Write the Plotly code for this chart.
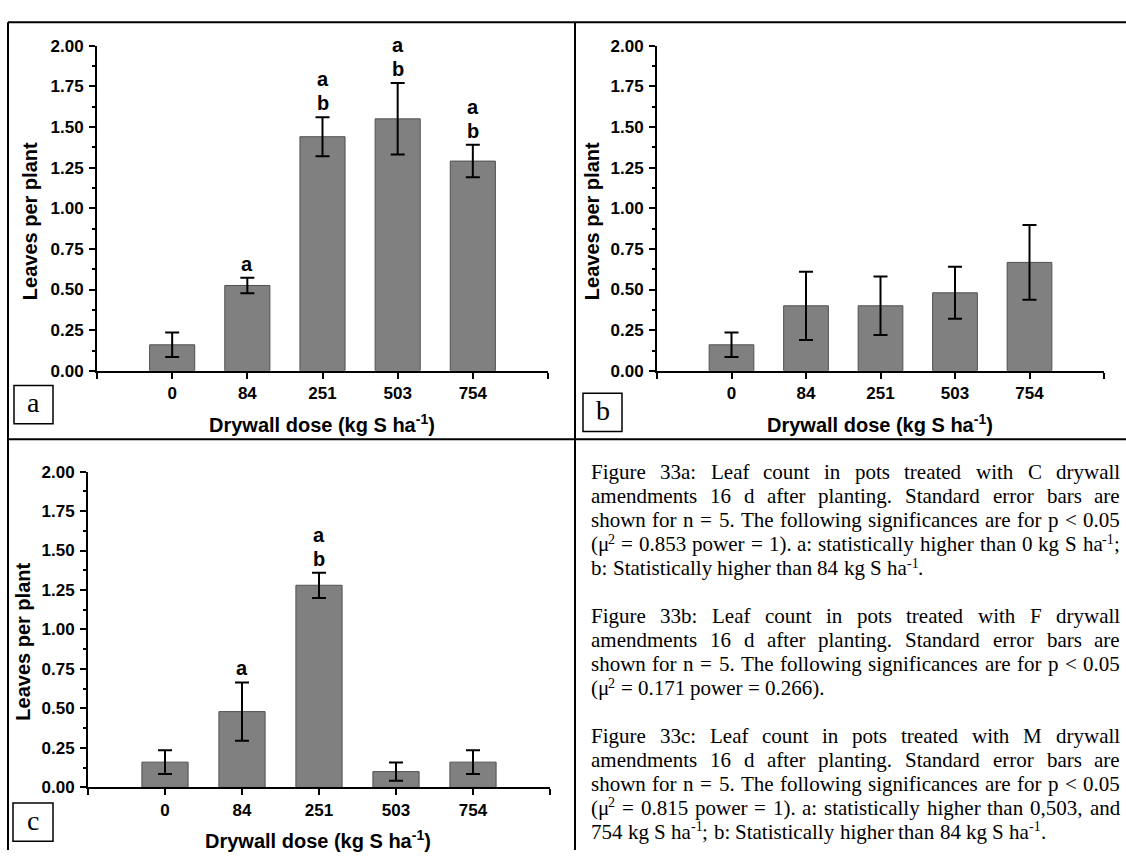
import re
import plotly.graph_objects as go

W, H = 1126, 860

# ---------------- data ----------------
categories = ["0", "84", "251", "503", "754"]

a_mean = [0.16, 0.525, 1.44, 1.55, 1.29]
a_err = [0.075, 0.048, 0.12, 0.22, 0.10]
a_letters = ["", "a", "ab", "ab", "ab"]

b_mean = [0.16, 0.40, 0.40, 0.48, 0.667]
b_err = [0.075, 0.21, 0.18, 0.16, 0.23]
b_letters = ["", "", "", "", ""]

c_mean = [0.16, 0.48, 1.28, 0.10, 0.16]
c_err = [0.075, 0.185, 0.08, 0.058, 0.075]
c_letters = ["", "a", "ab", "", ""]

y_ticks = [0.0, 0.25, 0.5, 0.75, 1.0, 1.25, 1.5, 1.75, 2.0]

# caption lines; ^{...} marks superscript; True = justified line
caption_paragraphs = [
    [
        ("Figure 33a: Leaf count in pots treated with C drywall", True),
        ("amendments 16 d after planting. Standard error bars are", True),
        ("shown for n = 5. The following significances are for p < 0.05", True),
        ("(μ^{2} = 0.853 power = 1). a: statistically higher than 0 kg S ha^{-1};", True),
        ("b: Statistically higher than 84 kg S ha^{-1}.", False),
    ],
    [
        ("Figure 33b: Leaf count in pots treated with F drywall", True),
        ("amendments 16 d after planting. Standard error bars are", True),
        ("shown for n = 5. The following significances are for p < 0.05", True),
        ("(μ^{2} = 0.171 power = 0.266).", False),
    ],
    [
        ("Figure 33c: Leaf count in pots treated with M drywall", True),
        ("amendments 16 d after planting. Standard error bars are", True),
        ("shown for n = 5. The following significances are for p < 0.05", True),
        ("(μ^{2} = 0.815 power = 1). a: statistically higher than 0,503, and", True),
        ("754 kg S ha^{-1}; b: Statistically higher than 84 kg S ha^{-1}.", False),
    ],
]

# ---------------- helpers ----------------
def px(x):
    return x / W


def py(y):
    return 1 - y / H


SANS = "Liberation Sans, Arial, sans-serif"
SERIF = "Liberation Serif, Times New Roman, serif"

panels = [
    dict(mean=a_mean, err=a_err, letters=a_letters, label="a",
         xd=(97, 548), yd=(37.5, 370), box=(14, 385, 53, 424),
         xt=(322, 424), yt=(30, 217)),
    dict(mean=b_mean, err=b_err, letters=b_letters, label="b",
         xd=(657, 1104), yd=(37.5, 370), box=(583, 393, 622, 432),
         xt=(880, 424), yt=(592, 217)),
    dict(mean=c_mean, err=c_err, letters=c_letters, label="c",
         xd=(88, 550), yd=(473, 796), box=(13, 812, 53, 851),
         xt=(318, 849), yt=(23, 647)),
]

fig = go.Figure()
annotations = []
shapes = []
xpos = list(range(1, len(categories) + 1))
xmax = len(categories) + 1

for i, p in enumerate(panels):
    sfx = "" if i == 0 else str(i + 1)
    xa, ya = "x" + sfx, "y" + sfx
    fig.add_trace(go.Bar(
        x=xpos, y=p["mean"], width=0.6,
        marker=dict(color="#808080", line=dict(color="#505050", width=1)),
        error_y=dict(type="data", array=p["err"], visible=True,
                     color="black", thickness=2, width=7),
        xaxis=xa, yaxis=ya, showlegend=False, hoverinfo="skip",
    ))
    axis_common = dict(showline=True, linecolor="black", linewidth=2,
                       ticks="outside", tickcolor="black", tickwidth=2,
                       ticklen=6, showgrid=False, zeroline=False,
                       tickfont=dict(family=SANS, size=17, color="black", weight="bold"),
                       fixedrange=True)
    fig.update_layout(**{
        "xaxis" + sfx: dict(axis_common, domain=[px(p["xd"][0]), px(p["xd"][1])],
                            range=[0, xmax],
                            tickmode="array", tickvals=xpos, ticktext=categories,
                            minor=dict(tickmode="array", tickvals=[0, xmax],
                                       ticks="outside", ticklen=6, tickwidth=2,
                                       tickcolor="black"),
                            anchor=ya),
        "yaxis" + sfx: dict(axis_common, domain=[py(p["yd"][1]), py(p["yd"][0])],
                            range=[0, 2], tickmode="array", tickvals=y_ticks,
                            tickformat=".2f", ticklabelstandoff=2,
                            minor=dict(ticks="outside", ticklen=3, tickwidth=1.5,
                                       tickcolor="black", dtick=0.125, tick0=0),
                            anchor=xa),
    })
    # significance letters
    for x, m, e, lt in zip(xpos, p["mean"], p["err"], p["letters"]):
        for k, ch in enumerate(reversed(lt)):
            annotations.append(dict(
                x=x, y=m + e, xref=xa, yref=ya, text=ch, showarrow=False,
                yanchor="middle", yshift=14 + 24 * k,
                font=dict(family=SANS, size=20, color="black", weight="bold")))
    # axis titles
    annotations.append(dict(
        x=px(p["xt"][0]), y=py(p["xt"][1]), xref="paper", yref="paper",
        text="Drywall dose (kg S ha<sup>-1</sup>)", showarrow=False,
        xanchor="center", yanchor="middle",
        font=dict(family=SANS, size=20, color="black", weight="bold")))
    annotations.append(dict(
        x=px(p["yt"][0]), y=py(p["yt"][1]), xref="paper", yref="paper",
        text="Leaves per plant", showarrow=False, textangle=-90,
        xanchor="center", yanchor="middle",
        font=dict(family=SANS, size=20, color="black", weight="bold")))
    # panel label box
    x0, y0, x1, y1 = p["box"]
    shapes.append(dict(type="rect", xref="paper", yref="paper",
                       x0=px(x0), x1=px(x1), y0=py(y1), y1=py(y0),
                       line=dict(color="black", width=1.5), fillcolor="white"))
    annotations.append(dict(
        x=px((x0 + x1) / 2), y=py((y0 + y1) / 2 - 2), xref="paper", yref="paper",
        text=p["label"], showarrow=False, xanchor="center", yanchor="middle",
        font=dict(family=SERIF, size=28, color="black")))

# table borders
for (x0, y0, x1, y1) in [(8, 13.5, 1126, 13.5), (8, 13.5, 8, 860),
                         (575, 13.5, 575, 860), (8, 440, 1126, 440)]:
    shapes.append(dict(type="line", xref="paper", yref="paper",
                       x0=px(x0), x1=px(x1), y0=py(y0), y1=py(y1),
                       line=dict(color="black", width=2)))

# ---------------- caption (justified text) ----------------
TIMES = {' ': 250, '(': 333, ')': 333, ',': 250, '-': 333, '.': 250, ':': 278,
         ';': 278, '<': 564, '=': 564, 'μ': 500,
         'A': 722, 'B': 667, 'C': 667, 'D': 722, 'E': 611, 'F': 556, 'G': 722,
         'H': 722, 'I': 333, 'J': 389, 'K': 722, 'L': 611, 'M': 889, 'N': 722,
         'O': 722, 'P': 556, 'Q': 722, 'R': 667, 'S': 556, 'T': 611, 'U': 722,
         'V': 722, 'W': 944, 'X': 722, 'Y': 722, 'Z': 611,
         'a': 444, 'b': 500, 'c': 444, 'd': 500, 'e': 444, 'f': 333, 'g': 500,
         'h': 500, 'i': 278, 'j': 278, 'k': 500, 'l': 278, 'm': 778, 'n': 500,
         'o': 500, 'p': 500, 'q': 500, 'r': 333, 's': 389, 't': 278, 'u': 500,
         'v': 500, 'w': 722, 'x': 500, 'y': 500, 'z': 444}
for d in "0123456789":
    TIMES[d] = 500

CAP_FS = 21
SUP_FS = 14
CAP_X0, CAP_X1 = 591, 1120
LINE_H = 24.5


def segments(word):
    out = []
    for part in re.split(r"(\^\{.*?\})", word):
        if not part:
            continue
        if part.startswith("^{"):
            out.append((part[2:-1], True))
        else:
            out.append((part, False))
    return out


def seg_width(s, sup):
    fs = SUP_FS if sup else CAP_FS
    return sum(TIMES.get(c, 500) for c in s) * fs / 1000.0


def esc(s):
    return s.replace("<", "&lt;")


line_y = 477
for pi, para in enumerate(caption_paragraphs):
    if pi > 0:
        line_y += LINE_H
    for text, justify in para:
        words = [segments(w) for w in text.split(" ")]
        widths = [sum(seg_width(s, sp) for s, sp in w) for w in words]
        if justify and len(words) > 1:
            gap = (CAP_X1 - CAP_X0 - sum(widths)) / (len(words) - 1)
        else:
            gap = 250 * CAP_FS / 1000.0
        bottom = line_y + 9
        xcur = CAP_X0
        for w, ww in zip(words, widths):
            xs = xcur
            for s, sup in w:
                annotations.append(dict(
                    x=px(xs), y=py(bottom - (9.5 if sup else 0)),
                    xref="paper", yref="paper", text=esc(s), showarrow=False,
                    xanchor="left", yanchor="bottom",
                    borderpad=0, borderwidth=0,
                    font=dict(family=SERIF, size=SUP_FS if sup else CAP_FS,
                              color="black")))
                xs += seg_width(s, sup)
            xcur += ww + gap
        line_y += LINE_H

fig.update_layout(
    width=W, height=H, margin=dict(l=0, r=0, t=0, b=0),
    paper_bgcolor="white", plot_bgcolor="white",
    annotations=annotations, shapes=shapes, bargap=0.4,
)

fig.write_html("out.html", config={"displayModeBar": False})
